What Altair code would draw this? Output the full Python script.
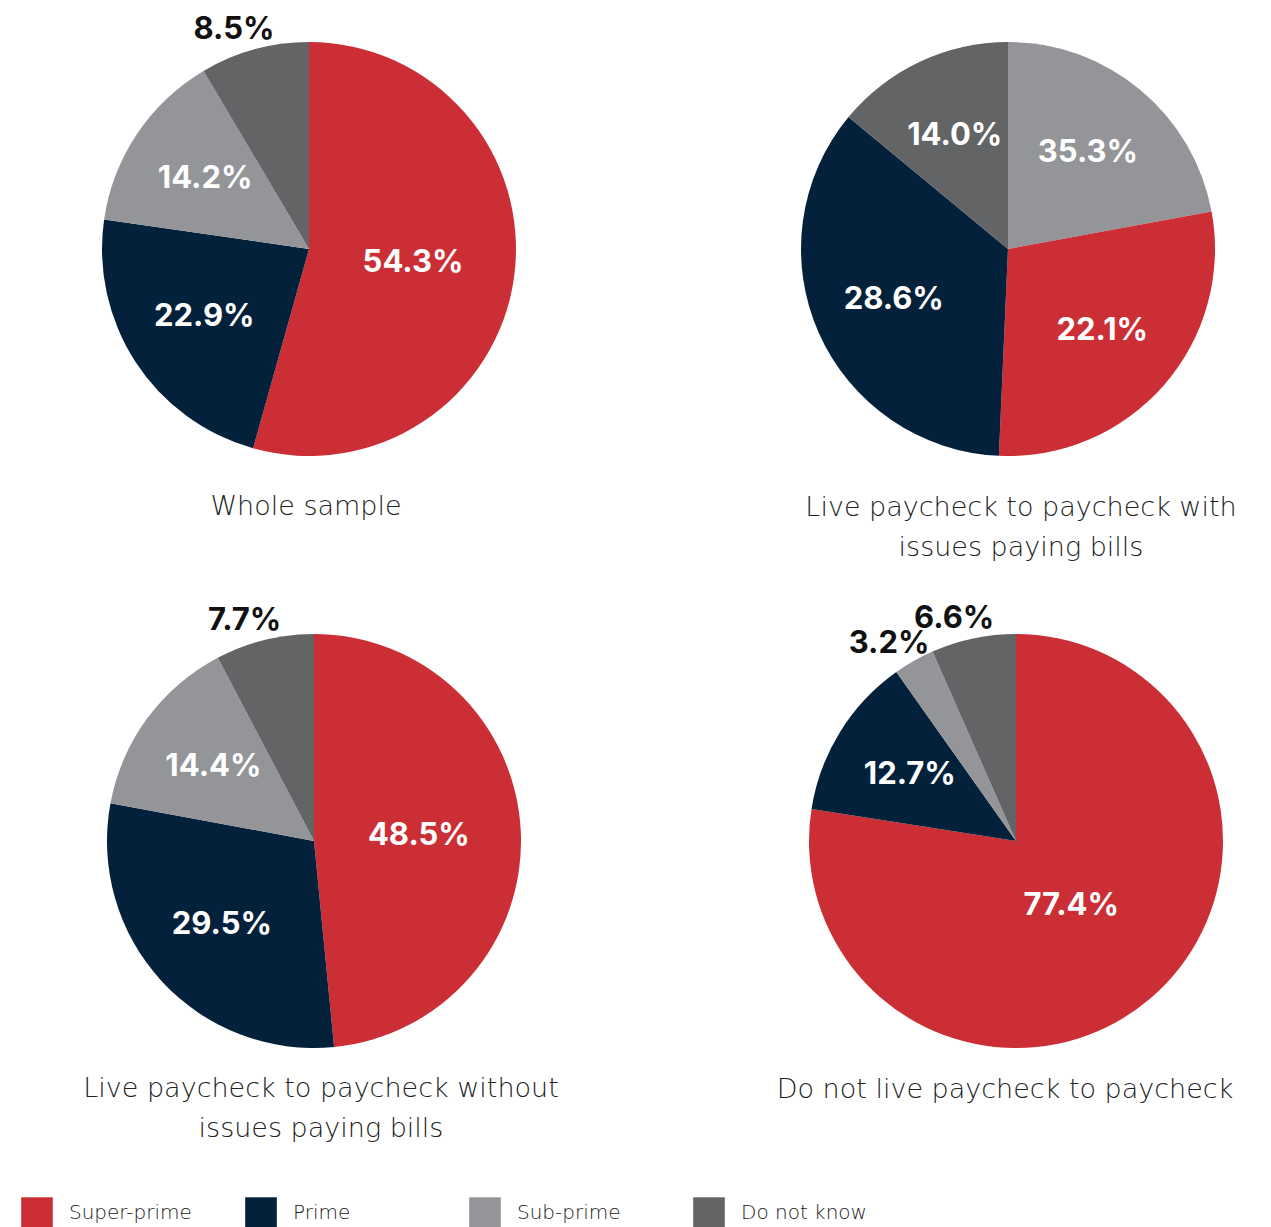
import altair as alt
import pandas as pd

categories = ["Super-prime", "Prime", "Sub-prime", "Do not know"]
palette = ["#CB2E35", "#03213B", "#939598", "#636466"]

# Slices listed clockwise from 12 o'clock: category, drawn share (%), printed label
whole_cats = ["Super-prime", "Prime", "Sub-prime", "Do not know"]
whole_vals = [54.3, 22.9, 14.2, 8.5]
whole_text = ["54.3%", "22.9%", "14.2%", "8.5%"]

with_cats = ["Sub-prime", "Super-prime", "Prime", "Do not know"]
with_vals = [22.1, 28.6, 35.3, 14.0]
with_text = ["35.3%", "22.1%", "28.6%", "14.0%"]

without_cats = ["Super-prime", "Prime", "Sub-prime", "Do not know"]
without_vals = [48.5, 29.5, 14.4, 7.7]
without_text = ["48.5%", "29.5%", "14.4%", "7.7%"]

notlive_cats = ["Super-prime", "Prime", "Sub-prime", "Do not know"]
notlive_vals = [77.4, 12.7, 3.2, 6.6]
notlive_text = ["77.4%", "12.7%", "3.2%", "6.6%"]

titles = [
    ["Whole sample"],
    ["Live paycheck to paycheck with", "issues paying bills"],
    ["Live paycheck to paycheck without", "issues paying bills"],
    ["Do not live paycheck to paycheck"],
]

LIGHT_FONT = "DejaVu Sans"


def pie(cats, vals, texts, title_lines, w, h, dx, offset):
    df = pd.DataFrame({
        "category": cats,
        "value": vals,
        "label": texts,
        "pos": list(range(len(cats))),
    })
    arcs = alt.Chart(df).mark_arc(outerRadius=207).encode(
        theta=alt.Theta("value:Q", stack=True),
        order=alt.Order("pos:Q", sort="ascending"),
        color=alt.Color(
            "category:N",
            scale=alt.Scale(domain=categories, range=palette),
            legend=alt.Legend(title=None),
        ),
    )
    lab_base = alt.Chart(df).transform_window(
        cum="sum(value)",
        sort=[alt.SortField("pos", order="ascending")],
        frame=[None, 0],
    ).transform_joinaggregate(
        total="sum(value)"
    ).transform_calculate(
        mid="(datum.cum - datum.value / 2) / datum.total",
        lr="datum.value > 70 ? 85 : (datum.value > 40 ? 105 : 125)",
    ).encode(
        theta=alt.Theta("mid:Q", stack=None, scale=alt.Scale(domain=[0, 1])),
        text="label:N",
    )
    inside = lab_base.transform_filter("datum.value >= 10").mark_text(
        font="Inter", fontSize=31, fontWeight="bold", color="#ffffff"
    ).encode(radius=alt.Radius("lr:Q", scale=None))
    outside = lab_base.transform_filter("datum.value < 10").mark_text(
        font="Inter", fontSize=31, fontWeight="bold", color="#111111", dx=-15
    ).encode(radius=alt.value(227))
    return alt.layer(arcs, inside, outside).resolve_scale(theta="independent").properties(
        width=w,
        height=h,
        title=alt.TitleParams(
            text=title_lines,
            orient="bottom",
            anchor="middle",
            frame="group",
            font=LIGHT_FONT,
            fontSize=27,
            fontWeight=200,
            color="#222222",
            lineHeight=40,
            offset=offset,
            dx=dx,
        ),
    )


p1 = pie(whole_cats, whole_vals, whole_text, titles[0], 602, 482, -3, 4)
p2 = pie(with_cats, with_vals, with_text, titles[1], 480, 482, 13, 5)
p3 = pie(without_cats, without_vals, without_text, titles[2], 612, 466, 7, 2)
p4 = pie(notlive_cats, notlive_vals, notlive_text, titles[3], 480, 466, -11, 3)

chart = alt.vconcat(
    alt.hconcat(p1, p2, spacing=158),
    alt.hconcat(p3, p4, spacing=156),
    spacing=41,
).properties(padding=0).configure_view(stroke=None).configure_legend(
    orient="none",
    legendX=13,
    legendY=1189,
    direction="horizontal",
    symbolType="square",
    symbolSize=1000,
    symbolStrokeWidth=0,
    symbolOpacity=1,
    labelFont=LIGHT_FONT,
    labelFontSize=20,
    labelFontWeight=200,
    labelColor="#1a1a1a",
    labelOffset=16,
    columnPadding=50,
    gridAlign="all",
)

chart.save("out.html", embed_options={"renderer": "svg", "actions": False})
